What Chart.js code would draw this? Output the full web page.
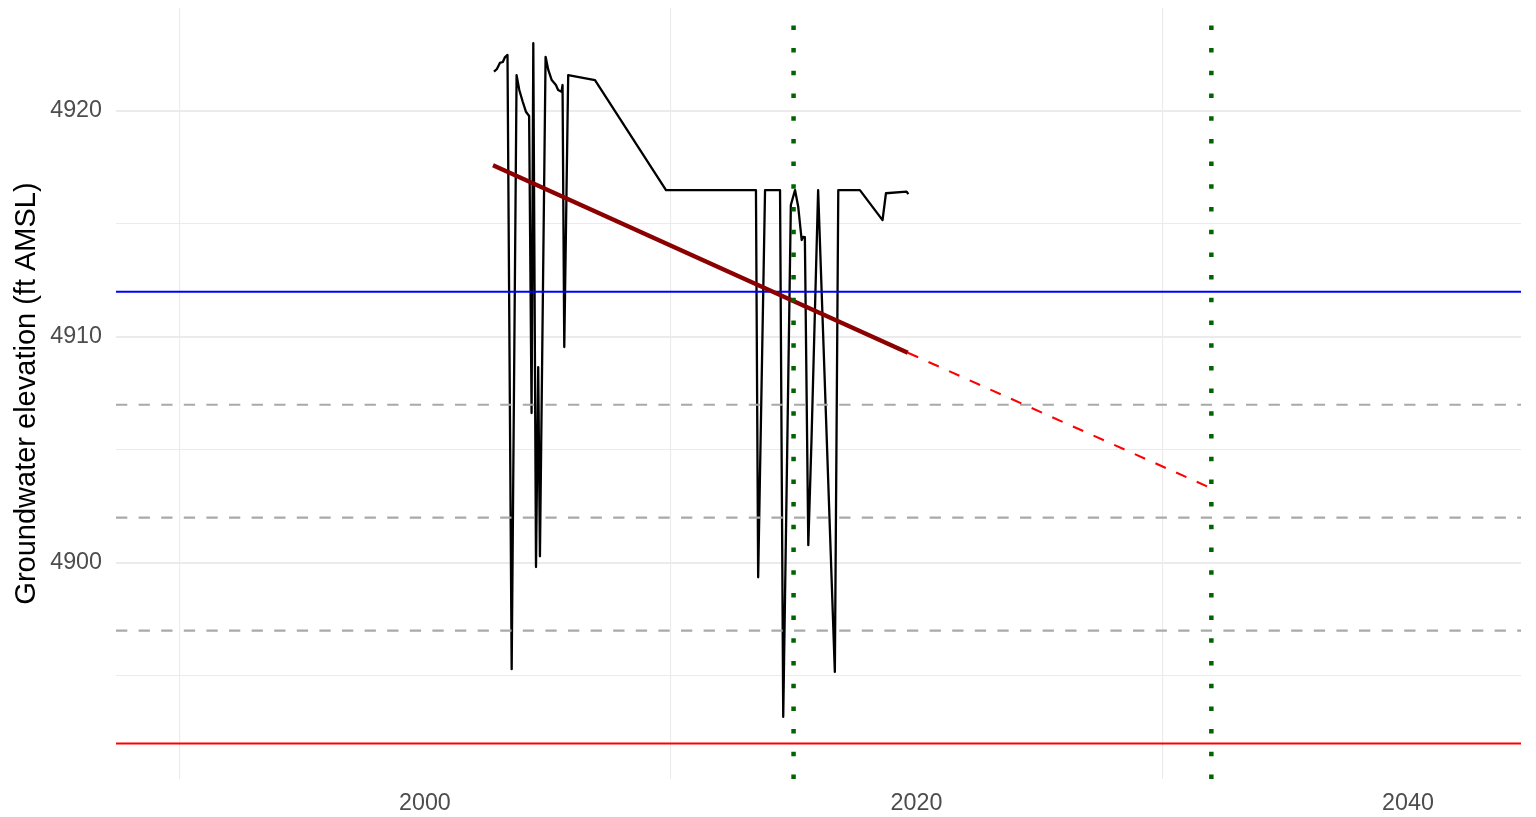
<!DOCTYPE html>
<html>
<head>
<meta charset="utf-8">
<script src="https://cdn.jsdelivr.net/npm/chart.js@4"></script>
<style>
  html, body { margin: 0; padding: 0; background: #fff; }
  canvas { display: block; }
</style>
</head>
<body>
<canvas id="gwChart" width="1536" height="817"></canvas>
<script>
// observed groundwater elevation (decimal year, ft AMSL)
const years = [2002.81, 2002.93, 2003.05, 2003.17, 2003.26, 2003.36, 2003.53, 2003.73, 2003.84, 2003.98,
  2004.11, 2004.24, 2004.34, 2004.41, 2004.52, 2004.61, 2004.68, 2004.91, 2005.02, 2005.16,
  2005.33, 2005.42, 2005.56, 2005.60, 2005.67, 2005.83, 2006.92, 2009.81, 2013.47, 2013.56,
  2013.84, 2014.45, 2014.58, 2014.89, 2015.06, 2015.19, 2015.33, 2015.39, 2015.46, 2015.60,
  2015.73, 2016.00, 2016.68, 2016.82, 2017.70, 2018.62, 2018.76, 2019.60, 2019.67];
const elevations = [4921.74, 4921.86, 4922.13, 4922.17, 4922.39, 4922.48, 4895.29, 4921.59, 4920.93, 4920.41,
  4919.97, 4919.78, 4906.63, 4923.0, 4899.81, 4908.66, 4900.29, 4922.40, 4921.82, 4921.37,
  4921.15, 4920.93, 4920.85, 4921.15, 4909.55, 4921.59, 4921.37, 4916.5, 4916.5, 4899.36,
  4916.5, 4916.5, 4893.18, 4915.84, 4916.5, 4915.76, 4914.29, 4914.43, 4914.42, 4900.78,
  4905.43, 4916.5, 4895.17, 4916.5, 4916.5, 4915.17, 4916.36, 4916.43, 4916.32];

// fitted trend and its projection
const trendYears = [2002.77, 2019.65];
const trendValues = [4917.6, 4909.3];
const projYears = [2019.65, 2032];
const projValues = [4909.3, 4903.3];

// reference levels
const upperLevel = 4912;
const lowerLevel = 4892;
const dashedLevels = [4907, 4902, 4897];
const markerYears = [2015, 2032];

// axes
const xLabelYears = [2000, 2020, 2040];
const xGridYears = [1990, 2010, 2030];
const yTicks = [4895, 4900, 4905, 4910, 4915, 4920];
const yLabelValues = [4900, 4910, 4920];

const X_MIN = 1987.43, X_MAX = 2044.6;
const Y_MIN = 4890.43, Y_MAX = 4924.56;

const FONT = "'Liberation Sans', Arial, sans-serif";

function pts(xs, ys) {
    return xs.map((x, i) => ({ x: x, y: ys[i] }));
}

function hline(value, color, dash) {
    return {
        data: [{ x: X_MIN, y: value }, { x: X_MAX, y: value }],
        borderColor: color, borderWidth: 2.1, borderDash: dash || []
    };
}

const datasets = [];
markerYears.forEach(yr => datasets.push({
    data: [{ x: yr, y: Y_MIN }, { x: yr, y: Y_MAX }],
    borderColor: '#006400', borderWidth: 4.5, borderDash: [4.5, 18.2]
}));
datasets.push({ data: pts(trendYears, trendValues), borderColor: '#8b0000', borderWidth: 4.2 });
datasets.push({ data: pts(projYears, projValues), borderColor: '#ff0000', borderWidth: 2.1, borderDash: [11.3, 11.3] });
datasets.push(hline(upperLevel, '#0000ff'));
datasets.push(hline(lowerLevel, '#ff0000'));
dashedLevels.forEach(v => datasets.push(hline(v, '#a9a9a9', [11.3, 11.3])));
datasets.push({ data: pts(years, elevations), borderColor: '#000000', borderWidth: 2.3, borderJoinStyle: 'round' });

datasets.forEach(d => {
    d.pointRadius = 0;
    d.tension = 0;
    d.fill = false;
});

new Chart(document.getElementById('gwChart').getContext('2d'), {
    type: 'line',
    data: { datasets: datasets },
    options: {
        responsive: false,
        devicePixelRatio: 1,
        animation: false,
        layout: { padding: { left: 0, right: 15, top: 8, bottom: 0 } },
        plugins: { legend: { display: false }, tooltip: { enabled: false } },
        scales: {
            x: {
                type: 'linear',
                min: X_MIN,
                max: X_MAX,
                afterBuildTicks: axis => {
                    axis.ticks = [...xGridYears, ...xLabelYears].sort((a, b) => a - b).map(v => ({ value: v }));
                },
                afterFit: axis => {
                    axis.height = 38;
                    axis.paddingLeft = 0;
                    axis.paddingRight = 0;
                },
                border: { display: false },
                grid: {
                    drawTicks: false,
                    lineWidth: 1.1,
                    color: ctx => (ctx.tick && xGridYears.includes(ctx.tick.value)) ? '#ebebeb' : 'rgba(0,0,0,0)'
                },
                ticks: {
                    autoSkip: false,
                    maxRotation: 0,
                    padding: 11,
                    color: '#4d4d4d',
                    font: { family: FONT, size: 23.3 },
                    callback: v => xLabelYears.includes(v) ? String(v) : ''
                }
            },
            y: {
                min: Y_MIN,
                max: Y_MAX,
                afterBuildTicks: axis => {
                    axis.ticks = yTicks.map(v => ({ value: v }));
                },
                afterFit: axis => {
                    axis.width = 116;
                    axis.paddingTop = 0;
                    axis.paddingBottom = 0;
                },
                border: { display: false },
                grid: {
                    drawTicks: false,
                    color: '#ebebeb',
                    lineWidth: ctx => (ctx.tick && yLabelValues.includes(ctx.tick.value)) ? 2 : 1.1
                },
                ticks: {
                    autoSkip: false,
                    padding: 14,
                    color: '#4d4d4d',
                    font: { family: FONT, size: 23.3 },
                    callback: v => yLabelValues.includes(v) ? String(v) : ''
                },
                title: {
                    display: true,
                    text: 'Groundwater elevation (ft AMSL)',
                    color: '#000000',
                    font: { family: FONT, size: 29, lineHeight: 1.2 },
                    padding: { top: 9.5, bottom: 0 }
                }
            }
        }
    }
});
</script>
</body>
</html>
